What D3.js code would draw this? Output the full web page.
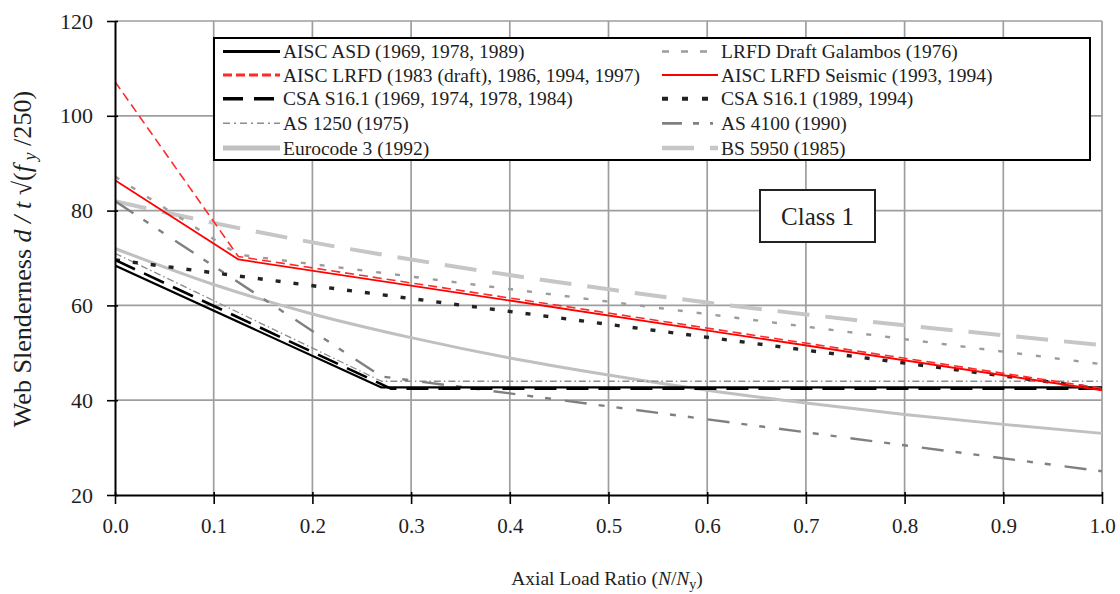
<!DOCTYPE html>
<html>
<head>
<meta charset="utf-8">
<script src="https://cdn.jsdelivr.net/npm/d3@7"></script>
<style>
  html, body { margin: 0; padding: 0; background: #fff; }
  svg text { font-family: 'Liberation Serif', 'Times New Roman', serif; }
</style>
</head>
<body>
<svg id="chart" width="1120" height="594"></svg>
<script>
// Axis ticks
const xTicks = [0, 0.1, 0.2, 0.3, 0.4, 0.5, 0.6, 0.7, 0.8, 0.9, 1.0];
const yTicks = [20, 40, 60, 80, 100, 120];

// Web slenderness limits (Class 1) against axial load ratio N/Ny
const aiscAsdX = [0, 0.27, 1.0];
const aiscAsdY = [68.4, 42.7, 42.7];

const aiscLrfdX = [0, 0.125, 1.0];
const aiscLrfdY = [107.2, 70.3, 42.5];

const csa1969X = [0, 0.28, 1.0];
const csa1969Y = [69.6, 42.4, 42.4];

const as1250X = [0, 0.27, 1.0];
const as1250Y = [71.0, 44.0, 44.0];

const eurocodeX = [0, 0.1, 0.2, 0.3, 0.4, 0.5, 0.6, 0.7, 0.8, 0.9, 1.0];
const eurocodeY = [72.0, 64.4, 58.2, 53.2, 48.9, 45.3, 42.1, 39.4, 37.0, 34.9, 33.0];

const galambosX = [0, 0.125, 1.0];
const galambosY = [87.2, 70.7, 47.6];

const seismicX = [0, 0.125, 1.0];
const seismicY = [86.4, 69.7, 42.1];

const csa1989X = [0, 1.0];
const csa1989Y = [69.6, 42.4];

const as4100X = [0, 0.27, 1.0];
const as4100Y = [82.0, 45.0, 25.0];

const bs5950X = [0, 0.1, 0.2, 0.3, 0.4, 0.5, 0.6, 0.7, 0.8, 0.9, 1.0];
const bs5950Y = [82.0, 77.4, 73.3, 69.7, 66.4, 63.4, 60.6, 58.1, 55.8, 53.7, 51.6];

// Line styles per series (plot stroke, then legend sample stroke)
const styles = {
  aiscAsd:  { color: "#000000", width: 2.2, dash: null,               lw: 3.2, ldash: null },
  aiscLrfd: { color: "#ff2a2a", width: 1.6, dash: "9,5",              lw: 3.2, ldash: "9,4" },
  csa1969:  { color: "#000000", width: 2.6, dash: "22,10",            lw: 3.4, ldash: "20,11" },
  as1250:   { color: "#8c8c8c", width: 1.3, dash: "7,3,1.5,3",        lw: 1.6, ldash: "7,4,2,4" },
  eurocode: { color: "#c0c0c0", width: 3.0, dash: null,               lw: 5,   ldash: null },
  galambos: { color: "#9c9c9c", width: 2.4, dash: "5,14",             lw: 2.6, ldash: "7,12" },
  seismic:  { color: "#ff0000", width: 1.8, dash: null,               lw: 2,   ldash: null },
  csa1989:  { color: "#222222", width: 3.4, dash: "5,13",             lw: 4,   ldash: "6,14" },
  as4100:   { color: "#808080", width: 2.4, dash: "22,12,6,12,6,14",  lw: 2.8, ldash: "20,11,6,11,3,10" },
  bs5950:   { color: "#c6c6c6", width: 4.0, dash: "32,16",            lw: 4.5, ldash: "32,16" }
};

const series = [
  { key: "eurocode", x: eurocodeX, y: eurocodeY, curve: true },
  { key: "bs5950",   x: bs5950X,   y: bs5950Y,   curve: true },
  { key: "galambos", x: galambosX, y: galambosY },
  { key: "as1250",   x: as1250X,   y: as1250Y },
  { key: "as4100",   x: as4100X,   y: as4100Y },
  { key: "csa1989",  x: csa1989X,  y: csa1989Y },
  { key: "csa1969",  x: csa1969X,  y: csa1969Y },
  { key: "aiscAsd",  x: aiscAsdX,  y: aiscAsdY },
  { key: "aiscLrfd", x: aiscLrfdX, y: aiscLrfdY },
  { key: "seismic",  x: seismicX,  y: seismicY }
];

// Legend entries: left column then right column
const legendLeft = [
  { key: "aiscAsd",  label: "AISC ASD (1969, 1978, 1989)" },
  { key: "aiscLrfd", label: "AISC LRFD (1983 (draft), 1986, 1994, 1997)" },
  { key: "csa1969",  label: "CSA S16.1 (1969, 1974, 1978, 1984)" },
  { key: "as1250",   label: "AS 1250 (1975)" },
  { key: "eurocode", label: "Eurocode 3 (1992)" }
];
const legendRight = [
  { key: "galambos", label: "LRFD Draft Galambos (1976)" },
  { key: "seismic",  label: "AISC LRFD Seismic (1993, 1994)" },
  { key: "csa1989",  label: "CSA S16.1 (1989, 1994)" },
  { key: "as4100",   label: "AS 4100 (1990)" },
  { key: "bs5950",   label: "BS 5950 (1985)" }
];

const SERIF = "Liberation Serif";
const TEXT = "#1e1e1e";
const svg = d3.select("#chart");
const plot = { left: 115, right: 1102, top: 21, bottom: 495 };

const x = d3.scaleLinear().domain([0, 1]).range([plot.left, plot.right]);
const y = d3.scaleLinear().domain([20, 120]).range([plot.bottom, plot.top]);

// Grid
const grid = svg.append("g").attr("stroke", "#9e9e9e").attr("stroke-width", 1.7);
grid.selectAll("line.v").data(xTicks.slice(1)).join("line")
  .attr("x1", d => x(d)).attr("x2", d => x(d))
  .attr("y1", plot.top).attr("y2", plot.bottom);
grid.selectAll("line.h").data(yTicks.slice(1)).join("line")
  .attr("x1", plot.left).attr("x2", plot.right)
  .attr("y1", d => y(d)).attr("y2", d => y(d));

// Clip for the data lines
svg.append("clipPath").attr("id", "plotClip").append("rect")
  .attr("x", plot.left).attr("y", plot.top)
  .attr("width", plot.right - plot.left + 2).attr("height", plot.bottom - plot.top);

const lines = svg.append("g").attr("clip-path", "url(#plotClip)");
series.forEach(s => {
  const st = styles[s.key];
  const pts = s.x.map((v, i) => [v, s.y[i]]);
  const gen = d3.line().x(d => x(d[0])).y(d => y(d[1]))
    .curve(s.curve ? d3.curveMonotoneX : d3.curveLinear);
  lines.append("path")
    .attr("d", gen(pts))
    .attr("fill", "none")
    .attr("stroke", st.color)
    .attr("stroke-width", st.width)
    .attr("stroke-dasharray", st.dash)
    .attr("stroke-linejoin", "round");
});

// Axes
const yAxis = d3.axisLeft(y).tickValues(yTicks).tickFormat(d3.format("d"))
  .tickSizeInner(8).tickSizeOuter(0).tickPadding(14);
const gy = svg.append("g").attr("transform", `translate(${plot.left},0)`).call(yAxis)
  .attr("font-family", SERIF);
gy.select(".domain").attr("stroke", "#000").attr("stroke-width", 2);
gy.selectAll(".tick line").attr("stroke", "#000").attr("stroke-width", 1.6).attr("x2", -8).attr("x1", 3);
gy.selectAll(".tick text").attr("font-size", 22).attr("fill", TEXT);

const xAxis = d3.axisBottom(x).tickValues(xTicks).tickFormat(d3.format(".1f"))
  .tickSizeInner(9).tickSizeOuter(0).tickPadding(14);
const gx = svg.append("g").attr("transform", `translate(0,${plot.bottom})`).call(xAxis)
  .attr("font-family", SERIF);
gx.select(".domain").attr("stroke", "#000").attr("stroke-width", 2);
gx.selectAll(".tick line").attr("stroke", "#000").attr("stroke-width", 1.6).attr("y1", -3);
gx.selectAll(".tick text").attr("font-size", 21).attr("fill", TEXT);

// Axis titles
const xTitle = svg.append("text")
  .attr("x", 607).attr("y", 585).attr("font-family", SERIF)
  .attr("text-anchor", "middle").attr("font-size", 19.5).attr("fill", TEXT);
xTitle.append("tspan").text("Axial Load Ratio (");
xTitle.append("tspan").attr("font-style", "italic").text("N");
xTitle.append("tspan").text("/");
xTitle.append("tspan").attr("font-style", "italic").text("N");
xTitle.append("tspan").attr("font-size", 14).attr("dy", 4).text("y");
xTitle.append("tspan").attr("dy", -4).text(")");

const yTitle = svg.append("text")
  .attr("font-family", SERIF)
  .attr("text-anchor", "middle").attr("font-size", 20).attr("fill", TEXT);
yTitle.append("tspan").text("Web Slenderness ");
yTitle.append("tspan").attr("font-style", "italic").text("d / t");
yTitle.append("tspan").text(" \u221A(");
yTitle.append("tspan").attr("font-style", "italic").text("f");
const ySub = yTitle.append("tspan").attr("dy", 4).attr("font-style", "italic").text(" y");
const yRest = yTitle.append("tspan").attr("dy", -4).text(" /250)");
// size the rotated title so it spans the plot height
const baseLen = yTitle.node().getComputedTextLength();
const ySize = 20 * 342 / baseLen;
yTitle.attr("font-size", ySize);
ySub.attr("font-size", ySize * 0.7).attr("dy", ySize * 0.2);
yRest.attr("dy", -ySize * 0.2);
yTitle.attr("transform", "translate(31,259) rotate(-90)");

// Class label box
svg.append("rect")
  .attr("x", 760).attr("y", 190).attr("width", 115).attr("height", 52)
  .attr("fill", "#fff").attr("stroke", "#222").attr("stroke-width", 2);
svg.append("text")
  .attr("x", 817.5).attr("y", 225).attr("font-family", SERIF)
  .attr("text-anchor", "middle").attr("font-size", 25).attr("fill", TEXT)
  .text("Class 1");

// Legend
const legend = svg.append("g").attr("font-family", SERIF);
legend.append("rect")
  .attr("x", 214).attr("y", 38).attr("width", 876).attr("height", 122)
  .attr("fill", "#fff").attr("stroke", "#000").attr("stroke-width", 2);

const rowY = [51.5, 75, 98.8, 123.3, 148];
function drawLegendColumn(entries, x0, x1, tx) {
  entries.forEach((e, i) => {
    const st = styles[e.key];
    legend.append("line")
      .attr("x1", x0).attr("x2", x1).attr("y1", rowY[i]).attr("y2", rowY[i])
      .attr("stroke", st.color).attr("stroke-width", st.lw)
      .attr("stroke-dasharray", st.ldash);
    legend.append("text")
      .attr("x", tx).attr("y", rowY[i]).attr("dy", "0.34em")
      .attr("font-size", 19.5).attr("fill", TEXT)
      .text(e.label);
  });
}
drawLegendColumn(legendLeft, 223, 280, 283);
drawLegendColumn(legendRight, 662, 718, 721);
</script>
</body>
</html>
